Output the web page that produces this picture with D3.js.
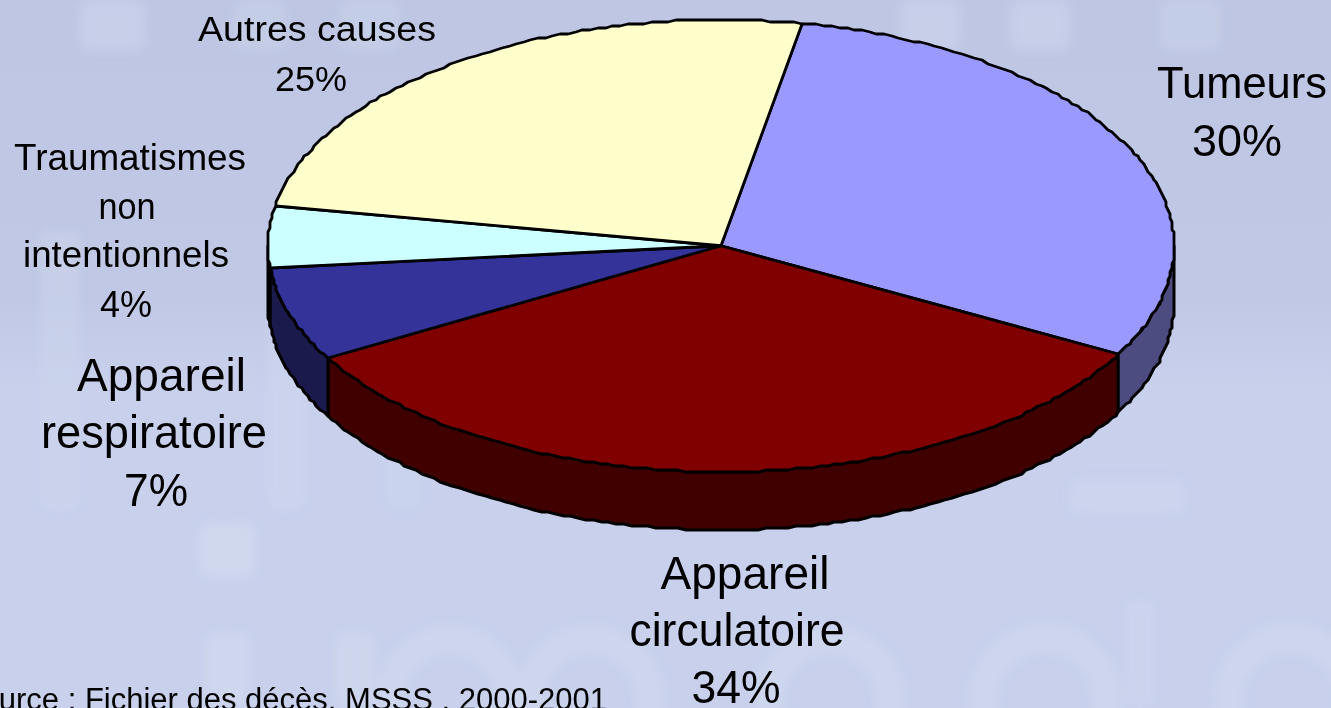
<!DOCTYPE html>
<html>
<head>
<meta charset="utf-8">
<script src="https://cdn.jsdelivr.net/npm/d3@7"></script>
<style>
  html, body { margin: 0; padding: 0; background: #c4cce8; overflow: hidden; }
  text { font-family: "Liberation Sans", Arial, sans-serif; fill: #000; }
</style>
</head>
<body>
<div id="chart"></div>
<script>
// values (printed labels are rounded)
const categories = ["Tumeurs", "Appareil circulatoire", "Appareil respiratoire", "Traumatismes non intentionnels", "Autres causes"];
const shares = [30.1, 33.8, 6.7, 4.4, 25.0];
const percentLabels = ["30%", "34%", "7%", "4%", "25%"];
const topColors = ["#9999ff", "#800000", "#333399", "#ccffff", "#ffffcc"];
const sideColors = ["#4c4c80", "#400000", "#1a1a4d", "#668080", "#808066"];
const sourceNote = "Source : Fichier des décès, MSSS , 2000-2001";

const width = 1331, height = 708;
const cx = 721, cy = 245.75, rx = 453, ry = 226, depth = 58;
const snap = 2; // the reference outline is stair-stepped

const svg = d3.select("#chart").append("svg")
    .attr("width", width)
    .attr("height", height)
    .style("display", "block");

// background: gradient plus the faint blown up lettering behind the chart
const defs = svg.append("defs");
const grad = defs.append("linearGradient").attr("id", "bg").attr("x1", 0).attr("y1", 0).attr("x2", 0).attr("y2", 1);
grad.append("stop").attr("offset", "0").attr("stop-color", "#bec6e3");
grad.append("stop").attr("offset", "0.42").attr("stop-color", "#c0c8e5");
grad.append("stop").attr("offset", "0.55").attr("stop-color", "#c8d0ec");
grad.append("stop").attr("offset", "1").attr("stop-color", "#c8d0ec");
defs.append("filter").attr("id", "soft").append("feGaussianBlur").attr("stdDeviation", 5);

svg.append("rect").attr("width", width).attr("height", height).attr("fill", "url(#bg)");

const wash = svg.append("g").attr("filter", "url(#soft)");
const bars = [[80, 0, 65, 50, 0.45], [235, 0, 50, 50, 0.35], [340, 0, 60, 50, 0.35], [900, 0, 60, 50, 0.45], [1010, 0, 60, 50, 0.45], [1160, 0, 60, 50, 0.35],
    [40, 230, 40, 280, 0.35], [268, 300, 38, 210, 0.4], [386, 380, 34, 130, 0.3], [199, 523, 57, 54, 0.8], [205, 633, 45, 75, 0.7], [335, 633, 40, 75, 0.6],
    [1125, 600, 30, 108, 0.4], [1070, 480, 115, 34, 0.5]];
wash.selectAll("rect").data(bars).join("rect")
    .attr("x", d => d[0]).attr("y", d => d[1]).attr("width", d => d[2]).attr("height", d => d[3])
    .attr("rx", 10)
    .attr("fill", "#d2daef").attr("opacity", d => d[4]);
const rings = [[450, 700, 60], [590, 700, 60], [830, 700, 60], [1045, 700, 62], [1290, 700, 62]];
wash.selectAll("circle").data(rings).join("circle")
    .attr("cx", d => d[0]).attr("cy", d => d[1]).attr("r", d => d[2])
    .attr("fill", "none").attr("stroke", "#d2daef").attr("stroke-width", 30).attr("opacity", 0.55);

// slices: angle 0 is straight up, clockwise, first slice starts a bit past 12 o'clock
const startAngle = 10.2 * Math.PI / 180;
const pie = d3.pie().sort(null).startAngle(startAngle).endAngle(startAngle + 2 * Math.PI);
const arcs = pie(shares);

const xScale = d3.scaleLinear().domain([-1, 1]).range([cx - rx, cx + rx]);
const yScale = d3.scaleLinear().domain([-1, 1]).range([cy + ry, cy - ry]);
const stair = v => Math.round(v / snap) * snap;

function rimPoints(a0, a1, drop) {
    const n = Math.max(2, Math.ceil(Math.abs(a1 - a0) / (Math.PI / 180)));
    return d3.range(n + 1).map(i => {
        const a = a0 + (a1 - a0) * i / n;
        return [stair(xScale(Math.sin(a))), stair(yScale(Math.cos(a))) + drop];
    });
}
const line = d3.line().curve(d3.curveLinear);

// side wall, only the part facing the viewer
const front0 = Math.PI / 2, front1 = 3 * Math.PI / 2;
svg.append("g").selectAll("path")
    .data(arcs.filter(d => d.endAngle > front0 && d.startAngle < front1))
    .join("path")
    .attr("d", d => {
        const a0 = Math.max(d.startAngle, front0), a1 = Math.min(d.endAngle, front1);
        return line(rimPoints(a0, a1, 0).concat(rimPoints(a1, a0, depth))) + "Z";
    })
    .attr("fill", d => sideColors[d.index])
    .attr("stroke", "#000")
    .attr("stroke-width", 3)
    .attr("stroke-linejoin", "round");

// top of the pie
svg.append("g").selectAll("path")
    .data(arcs)
    .join("path")
    .attr("d", d => line([[xScale(0), yScale(0)]].concat(rimPoints(d.startAngle, d.endAngle, 0))) + "Z")
    .attr("fill", d => topColors[d.index])
    .attr("stroke", "#000")
    .attr("stroke-width", 2.8)
    .attr("stroke-linejoin", "round");

// labels, split over lines like in the reference
const labelLines = [
    ["Tumeurs", percentLabels[0]],
    ["Appareil", "circulatoire", percentLabels[1]],
    ["Appareil", "respiratoire", percentLabels[2]],
    ["Traumatismes", "non", "intentionnels", percentLabels[3]],
    ["Autres causes", percentLabels[4]]
];
// per line: centre x, baseline y, width
const labelBoxes = [
    [[1242, 98, 170], [1237, 156, 90]],
    [[745, 589, 169], [737, 646, 215], [736, 703, 89]],
    [[161.5, 391, 169], [154, 448, 226], [156, 506, 64]],
    [[130, 170, 232], [127, 219, 57], [126, 267, 206], [126, 317, 52]],
    [[317, 41, 238], [311, 91, 72]]
];
const labelSizes = [44, 46, 46, 36, 35];

const labels = svg.append("g");
labelLines.forEach((lines, i) => {
    labels.append("g").attr("aria-label", categories[i]).selectAll("text")
        .data(lines)
        .join("text")
        .attr("x", (d, j) => labelBoxes[i][j][0])
        .attr("y", (d, j) => labelBoxes[i][j][1])
        .attr("text-anchor", "middle")
        .attr("font-size", labelSizes[i])
        .attr("textLength", (d, j) => labelBoxes[i][j][2])
        .attr("lengthAdjust", "spacingAndGlyphs")
        .text(d => d);
});

// cut off by the left and bottom edge in the reference too
svg.append("text")
    .attr("x", 607)
    .attr("y", 710)
    .attr("text-anchor", "end")
    .attr("font-size", 31)
    .text(sourceNote);
</script>
</body>
</html>
